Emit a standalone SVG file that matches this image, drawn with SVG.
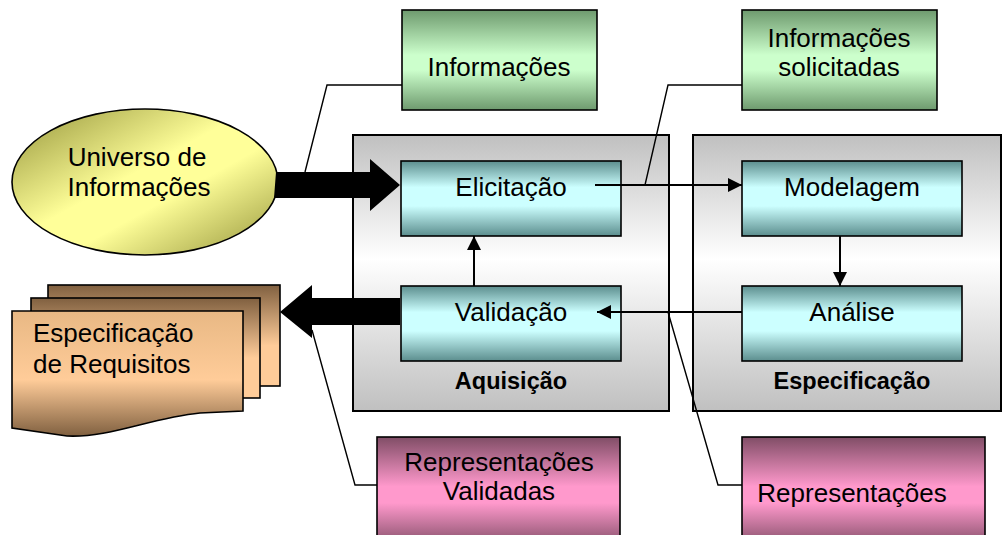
<svg xmlns="http://www.w3.org/2000/svg" width="1003" height="535" viewBox="0 0 1003 535">
<style>
text{font-family:"Liberation Sans",Arial,sans-serif;font-size:26px;fill:#000;text-anchor:middle}
.lbl{font-weight:bold;font-size:23.5px}
.box{stroke:#000;stroke-width:1.6}
.cont{stroke:#000;stroke-width:2;fill:url(#gGray)}
.con{stroke:#000;stroke-width:2;fill:none}
.call{stroke:#000;stroke-width:1.4;fill:none}
</style>
<defs>
<linearGradient id="gGray" x1="0" y1="0" x2="0" y2="1">
<stop offset="0" stop-color="#c0c0c0"/><stop offset="0.45" stop-color="#ffffff"/><stop offset="1" stop-color="#c0c0c0"/>
</linearGradient>
<linearGradient id="gCyan" x1="0" y1="0" x2="0" y2="1">
<stop offset="0" stop-color="#5c8e8e"/><stop offset="0.35" stop-color="#ccffff"/><stop offset="0.6" stop-color="#ccffff"/><stop offset="1" stop-color="#5c8e8e"/>
</linearGradient>
<linearGradient id="gGreen" x1="0" y1="0" x2="0" y2="1">
<stop offset="0" stop-color="#6e9a6e"/><stop offset="0.45" stop-color="#ccffcc"/><stop offset="0.6" stop-color="#ccffcc"/><stop offset="1" stop-color="#6e9a6e"/>
</linearGradient>
<linearGradient id="gPink" x1="0" y1="0" x2="0" y2="1">
<stop offset="0" stop-color="#804d66"/><stop offset="0.45" stop-color="#ff99cc"/><stop offset="0.6" stop-color="#ff99cc"/><stop offset="1" stop-color="#804d66"/>
</linearGradient>
<linearGradient id="gYellow" x1="0" y1="0" x2="1" y2="1">
<stop offset="0" stop-color="#94943a"/><stop offset="0.45" stop-color="#ffff99"/><stop offset="0.6" stop-color="#ffff99"/><stop offset="1" stop-color="#94943a"/>
</linearGradient>
<linearGradient id="gDocFront" x1="0" y1="0" x2="0" y2="1">
<stop offset="0" stop-color="#e8b884"/><stop offset="0.55" stop-color="#ffcc99"/><stop offset="1" stop-color="#806040"/>
</linearGradient>
<linearGradient id="gDocBack" x1="0" y1="0" x2="0" y2="1">
<stop offset="0" stop-color="#806040"/><stop offset="0.6" stop-color="#ffcc99"/><stop offset="1" stop-color="#ffcc99"/>
</linearGradient>
<marker id="ah2" viewBox="0 0 10 10" refX="10" refY="5" markerUnits="userSpaceOnUse" markerWidth="16" markerHeight="14" orient="auto">
<path d="M0,0 L10,5 L0,10 z" fill="#000"/>
</marker>
</defs>

<g id="aquisicao">
<rect class="cont" x="353" y="135" width="316" height="276"/>
<text class="lbl" x="511" y="389">Aquisição</text>
</g>
<g id="especificacao">
<rect class="cont" x="693" y="135" width="308" height="276"/>
<text class="lbl" x="852" y="389">Especificação</text>
</g>

<g id="universo">
<ellipse cx="145" cy="182" rx="133" ry="73" fill="url(#gYellow)" stroke="#000" stroke-width="1.6"/>
<text x="137" y="166">Universo de</text>
<text x="139" y="196">Informações</text>
</g>

<g id="especificacao-requisitos">
<rect x="48" y="285" width="232" height="101" fill="url(#gDocBack)" stroke="#000" stroke-width="1.6"/>
<rect x="31" y="298" width="229" height="100" fill="url(#gDocBack)" stroke="#000" stroke-width="1.6"/>
<path d="M12,311 H243 V411 L200,413 C150,418 110,438 67,436 L12,428 Z" fill="url(#gDocFront)" stroke="#000" stroke-width="1.6"/>
<text x="33" y="342" style="text-anchor:start">Especificação</text>
<text x="33" y="373" style="text-anchor:start">de Requisitos</text>
</g>

<g id="informacoes">
<rect class="box" x="402" y="10" width="195" height="100" fill="url(#gGreen)"/>
<text x="499" y="76">Informações</text>
</g>
<g id="informacoes-solicitadas">
<rect class="box" x="742" y="10" width="195" height="100" fill="url(#gGreen)"/>
<text x="839" y="47">Informações</text>
<text x="839" y="76">solicitadas</text>
</g>

<g id="elicitacao">
<rect class="box" x="401" y="161" width="220" height="75" fill="url(#gCyan)"/>
<text x="511" y="196">Elicitação</text>
</g>
<g id="validacao">
<rect class="box" x="401" y="286" width="220" height="75" fill="url(#gCyan)"/>
<text x="511" y="321">Validação</text>
</g>
<g id="modelagem">
<rect class="box" x="742" y="161" width="220" height="75" fill="url(#gCyan)"/>
<text x="852" y="196">Modelagem</text>
</g>
<g id="analise">
<rect class="box" x="742" y="286" width="220" height="75" fill="url(#gCyan)"/>
<text x="852" y="321">Análise</text>
</g>

<g id="representacoes-validadas">
<rect class="box" x="377" y="437" width="243" height="110" fill="url(#gPink)"/>
<text x="499" y="471">Representações</text>
<text x="499" y="500">Validadas</text>
</g>
<g id="representacoes">
<rect class="box" x="742" y="437" width="243" height="110" fill="url(#gPink)"/>
<text x="852" y="502">Representações</text>
</g>

<g id="connectors">
<polygon points="276,172 370,172 370,159 400,185 370,211 370,198 274,198" fill="#000"/>
<polygon points="400,298 312,298 312,285 280,312 312,338 312,325 400,325" fill="#000"/>
<line class="con" x1="595" y1="185" x2="742" y2="185" marker-end="url(#ah2)"/>
<line class="con" x1="742" y1="312" x2="597" y2="312" marker-end="url(#ah2)"/>
<line class="con" x1="474" y1="286" x2="474" y2="236" marker-end="url(#ah2)"/>
<line class="con" x1="840" y1="236" x2="840" y2="286" marker-end="url(#ah2)"/>
<polyline class="call" points="402,85 327,85 305,172"/>
<polyline class="call" points="742,85 668,85 645,185"/>
<polyline class="call" points="377,485 355,485 312,330"/>
<polyline class="call" points="742,485 718,485 668,312"/>
</g>
</svg>
